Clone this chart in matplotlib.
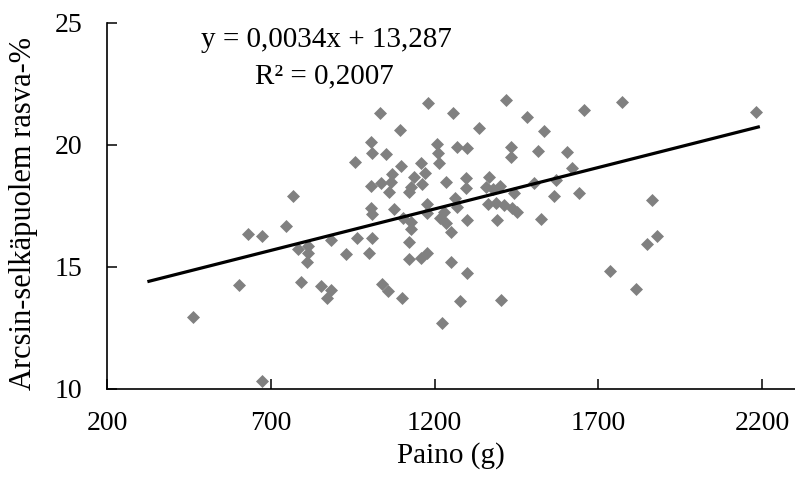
import numpy as np
import matplotlib
matplotlib.use("Agg")
import matplotlib.pyplot as plt

plt.rcParams['font.family'] = ['Liberation Serif', 'DejaVu Serif']

# Paino (g) ja arcsin-muunnettu selkäpuolen rasva-%
paino = [462, 602, 672, 629, 672, 745, 769, 782, 812, 815, 809, 791, 852, 870, 885,
         885, 931, 964, 1010, 1001, 1040, 1059, 1101, 1123, 1129, 1123, 1159, 1177,
         1251, 1251, 1299, 1278, 1223, 1403, 1735, 1814, 1878, 1847, 1863, 2182,
         1771, 1655, 1418, 1482, 1534, 1180, 1034, 1257, 1095, 1336, 1433, 1433,
         1515, 1604, 1619, 1503, 1570, 1564, 1640, 1525, 1442, 1400, 1391, 1366,
         1357, 1378, 1363, 1388, 1412, 1436, 1451, 1299, 1296, 1296, 1269, 1299,
         1235, 1263, 1269, 1229, 1217, 1235, 1208, 1211, 1214, 1159, 1138, 1171,
         1123, 1098, 1071, 1068, 1007, 1037, 1062, 1129, 1162, 1007, 1010, 1053,
         958, 1007, 1010, 1077, 1104, 1129, 1177, 1177]
rasva = [12.94, 14.25, 10.32, 16.34, 16.26, 16.67, 17.90, 15.73, 15.85, 15.56, 15.19,
         14.37, 14.21, 13.72, 14.05, 16.09, 15.52, 16.18, 16.18, 15.56, 14.29, 14.01,
         13.72, 16.01, 16.55, 15.32, 15.36, 15.56, 16.42, 15.19, 14.74, 13.60, 12.69,
         13.64, 14.82, 14.09, 16.26, 15.93, 17.73, 21.34, 21.75, 21.42, 21.83, 21.14,
         20.56, 21.71, 21.30, 21.30, 20.60, 20.68, 19.91, 19.50, 19.74, 19.70, 19.05,
         18.43, 18.55, 17.90, 18.02, 16.96, 18.02, 18.31, 16.91, 18.68, 18.27, 18.18,
         17.57, 17.61, 17.53, 17.41, 17.24, 16.91, 18.64, 18.23, 19.91, 19.87, 18.47,
         17.82, 17.45, 17.24, 17.00, 16.79, 20.03, 19.66, 19.25, 19.25, 18.68, 18.84,
         18.06, 19.13, 18.80, 18.47, 18.31, 18.43, 18.06, 18.27, 18.39, 20.12, 19.66,
         19.62, 19.29, 17.41, 17.16, 17.37, 17.00, 16.83, 17.57, 17.20]

# trendiviivan yhtälö (Excel)
kulmakerroin = 0.0034
vakio = 13.287
trendi_x = [328, 2188]

fig = plt.figure(figsize=(7.95, 4.8), dpi=100)
ax = fig.add_axes([0.1346, 0.1902, 0.8654, 0.7625])

ax.scatter(paino, rasva, marker='D', s=44, color='#808080', linewidths=0, zorder=2)
tx = np.array(trendi_x)
ax.plot(tx, kulmakerroin * tx + vakio, color='black', lw=2.3, zorder=3)

ax.set_xlim(200, 2300)
ax.set_ylim(10, 25)
ax.set_xticks([200, 700, 1200, 1700, 2200])
ax.set_yticks([10, 15, 20, 25])
ax.spines['top'].set_visible(False)
ax.spines['right'].set_visible(False)
for s in ['left', 'bottom']:
    ax.spines[s].set_linewidth(1.2)
ax.tick_params(direction='in', length=7, width=1.1, labelsize=20)
ax.tick_params(axis='y', pad=18)
ax.tick_params(axis='x', pad=16)

fig.text(451 / 795, 0.0354, 'Paino (g)', ha='center', va='baseline', fontsize=21)
fig.text(24 / 795, 1 - 214 / 480, 'Arcsin-selkäpuolem rasva-%', rotation=90,
         ha='center', va='center', fontsize=22)
fig.text(326 / 795, 1 - 47 / 480, 'y = 0,0034x + 13,287', ha='center', va='baseline', fontsize=21)
fig.text(324 / 795, 1 - 83 / 480, 'R² = 0,2007', ha='center', va='baseline', fontsize=21)

fig.savefig('out.png', dpi=100)
